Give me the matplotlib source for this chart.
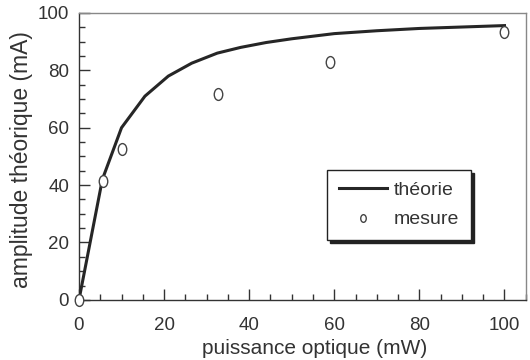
import matplotlib.pyplot as plt
from matplotlib.ticker import MultipleLocator
from matplotlib.path import Path
from matplotlib.transforms import Affine2D

plt.rcParams['font.family'] = ['Liberation Sans', 'DejaVu Sans']

# courbe theorique
p_theorie = [0, 5.5, 10, 15.5, 21, 26.5, 32.5, 38, 44, 50, 60, 70, 80, 90, 100]
i_theorie = [0, 42, 60, 71, 78, 82.5, 86, 88, 89.7, 91, 92.8, 93.8, 94.6, 95.1, 95.6]

# points mesures
p_mesure = [0, 5.6, 10, 32.6, 59, 100]
i_mesure = [0, 41.5, 52.6, 71.8, 82.9, 93.4]

TXT = '#333333'

# cercle un peu etire verticalement, comme sur l'original
ellipse = Path.unit_circle().transformed(Affine2D().scale(0.72, 1.0))

fig = plt.figure(figsize=(5.3, 3.6), dpi=100)
ax = fig.add_axes([0.149, 0.167, 0.843, 0.797])

ax.plot(p_theorie, i_theorie, color='#262626', lw=2.2, label='théorie', zorder=3)
ax.plot(p_mesure, i_mesure, ls='none', marker=ellipse, ms=8.5, mfc='white', mec='#444444',
        mew=1.0, label='mesure', clip_on=False, zorder=4)

ax.set_xlim(0, 105)
ax.set_ylim(0, 100)
ax.set_xticks([0, 20, 40, 60, 80, 100])
ax.set_yticks([0, 20, 40, 60, 80, 100])
ax.xaxis.set_minor_locator(MultipleLocator(5))
ax.yaxis.set_minor_locator(MultipleLocator(5))
ax.tick_params(which='both', direction='in', colors='#333333', labelcolor=TXT, labelsize=13.5)
ax.tick_params(which='major', length=8, width=1)
ax.tick_params(which='minor', length=4, width=1)
ax.tick_params(axis='x', pad=12)
ax.tick_params(axis='y', pad=7)

for s in ['left', 'bottom']:
    ax.spines[s].set_color('#333333')
    ax.spines[s].set_linewidth(1.0)
for s in ['top', 'right']:
    ax.spines[s].set_color('#888888')
    ax.spines[s].set_linewidth(1.0)

ax.set_xlabel('puissance optique (mW)', fontsize=15, color=TXT)
ax.xaxis.set_label_coords(0.527, -0.135)
ax.set_ylabel('amplitude théorique (mA)', fontsize=16.5, color=TXT)
ax.yaxis.set_label_coords(-0.103, 0.49)

leg = ax.legend(loc='upper left', bbox_to_anchor=(0.555, 0.453), borderaxespad=0,
                fontsize=14, fancybox=False, handlelength=2.5, handletextpad=0.35,
                borderpad=0.6, labelspacing=0.6, markerscale=0.65,
                shadow={'color': '#222222', 'alpha': 1.0}, framealpha=1)
leg.get_frame().set_edgecolor('#222222')
leg.get_frame().set_linewidth(1.0)
for t in leg.get_texts():
    t.set_color(TXT)

fig.savefig('out.png', dpi=100)
